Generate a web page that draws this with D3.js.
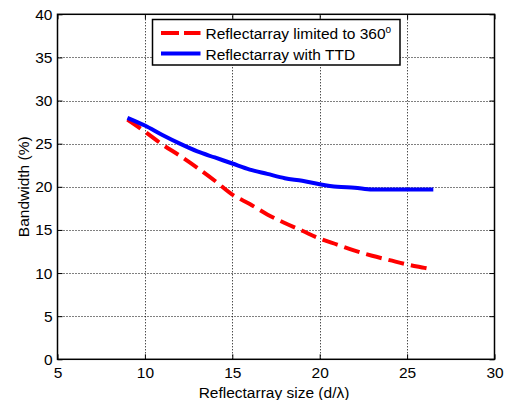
<!DOCTYPE html>
<html>
<head>
<meta charset="utf-8">
<script src="https://cdn.jsdelivr.net/npm/d3@7"></script>
<style>
  body { margin: 0; background: #fff; }
  svg { display: block; font-family: Arial, "Liberation Sans", sans-serif; }
</style>
</head>
<body>
<div id="chart"></div>
<script>
// values
const sizeLimited = [9, 10, 11, 12, 13, 14, 15, 16, 17, 18, 19, 20, 21, 22, 23, 24, 25, 26, 26.5];
const bwLimited   = [27.8, 26.4, 24.9, 23.6, 22.2, 20.7, 19.1, 18.0, 16.8, 15.8, 14.9, 14.0, 13.3, 12.6, 12.0, 11.5, 11.0, 10.6, 10.4];
const sizeTTD = [9, 10, 11, 12, 13, 14, 15, 16, 17, 18, 19, 20, 21, 22, 23, 24, 25, 26, 26.5];
const bwTTD   = [28.0, 27.1, 26.0, 25.0, 24.1, 23.4, 22.7, 22.0, 21.5, 21.0, 20.7, 20.3, 20.0, 19.9, 19.7, 19.7, 19.7, 19.7, 19.7];
const xTicks = [5, 10, 15, 20, 25, 30];
const yTicks = [0, 5, 10, 15, 20, 25, 30, 35, 40];

const width = 506, height = 400;
const margin = {left: 57.5, right: 11.5, top: 14.3, bottom: 40.7};

const svg = d3.select("#chart").append("svg")
    .attr("width", width)
    .attr("height", height);

const x = d3.scaleLinear().domain([5, 30]).range([margin.left, width - margin.right]);
const y = d3.scaleLinear().domain([0, 40]).range([height - margin.bottom, margin.top]);

// grid
const grid = svg.append("g")
    .attr("stroke", "#000")
    .attr("stroke-width", 1)
    .attr("stroke-dasharray", "1,2");
grid.selectAll("line.gx")
  .data(xTicks.slice(1, -1))
  .join("line")
    .attr("x1", d => Math.round(x(d)) + 0.5).attr("x2", d => Math.round(x(d)) + 0.5)
    .attr("y1", y(0)).attr("y2", y(40));
grid.selectAll("line.gy")
  .data(yTicks.slice(1, -1))
  .join("line")
    .attr("class", "gy")
    .attr("y1", d => Math.round(y(d)) + 0.5).attr("y2", d => Math.round(y(d)) + 0.5)
    .attr("x1", x(5)).attr("x2", x(30));

// axes, ticks inward on all sides
const axisBottom = d3.axisBottom(x).tickValues(xTicks).tickSizeInner(-5).tickSizeOuter(0).tickPadding(8);
const axisLeft = d3.axisLeft(y).tickValues(yTicks).tickSizeInner(-5).tickSizeOuter(0).tickPadding(5);
const axisTop = d3.axisTop(x).tickValues(xTicks).tickSizeInner(-5).tickSizeOuter(0).tickFormat("");
const axisRight = d3.axisRight(y).tickValues(yTicks).tickSizeInner(-5).tickSizeOuter(0).tickFormat("");

function styleAxis(g) {
  g.select(".domain").remove();
  g.selectAll("line").attr("stroke", "#000").attr("stroke-width", 1);
  g.selectAll("text").attr("font-size", 15.5).attr("fill", "#000")
    .attr("font-family", "Arial, 'Liberation Sans', sans-serif");
}

svg.append("g").attr("transform", `translate(0,${y(0)})`).call(axisBottom).call(styleAxis);
svg.append("g").attr("transform", `translate(${x(5)},0)`).call(axisLeft).call(styleAxis);
svg.append("g").attr("transform", `translate(0,${y(40)})`).call(axisTop).call(styleAxis);
svg.append("g").attr("transform", `translate(${x(30)},0)`).call(axisRight).call(styleAxis);

// box
svg.append("rect")
    .attr("x", x(5)).attr("y", y(40))
    .attr("width", x(30) - x(5)).attr("height", y(0) - y(40))
    .attr("fill", "none").attr("stroke", "#000").attr("stroke-width", 1.5);

// curves
const line = d3.line().x(d => x(d[0])).y(d => y(d[1])).curve(d3.curveMonotoneX);

svg.append("path")
    .datum(d3.zip(sizeLimited, bwLimited))
    .attr("d", line)
    .attr("fill", "none")
    .attr("stroke", "#ff0000")
    .attr("stroke-width", 4)
    .attr("stroke-dasharray", "16,7");

svg.append("path")
    .datum(d3.zip(sizeTTD, bwTTD))
    .attr("d", line)
    .attr("fill", "none")
    .attr("stroke", "#0000ff")
    .attr("stroke-width", 4);

// legend
const legend = svg.append("g");
legend.append("rect")
    .attr("x", 152.5).attr("y", 19.5)
    .attr("width", 247.5).attr("height", 45.5)
    .attr("fill", "#fff").attr("stroke", "#000").attr("stroke-width", 1.5);

legend.append("line")
    .attr("x1", 161).attr("x2", 200.5).attr("y1", 33).attr("y2", 33)
    .attr("stroke", "#ff0000").attr("stroke-width", 4).attr("stroke-dasharray", "18,5");
legend.append("line")
    .attr("x1", 161).attr("x2", 200.5).attr("y1", 53.5).attr("y2", 53.5)
    .attr("stroke", "#0000ff").attr("stroke-width", 4);

const t1 = legend.append("text")
    .attr("x", 205.5).attr("y", 38.5)
    .attr("font-size", 15.5);
t1.append("tspan").text("Reflectarray limited to 360");
t1.append("tspan").attr("font-size", 10).attr("dy", -6).text("o");
legend.append("text")
    .attr("x", 205.5).attr("y", 59.5)
    .attr("font-size", 15.5)
    .text("Reflectarray with TTD");

// axis titles
svg.append("text")
    .attr("x", 274).attr("y", 398)
    .attr("text-anchor", "middle")
    .attr("font-size", 15.5)
    .text("Reflectarray size (d/λ)");

svg.append("text")
    .attr("transform", `translate(29,${(y(0) + y(40)) / 2}) rotate(-90)`)
    .attr("text-anchor", "middle")
    .attr("font-size", 15.5)
    .text("Bandwidth (%)");
</script>
</body>
</html>
